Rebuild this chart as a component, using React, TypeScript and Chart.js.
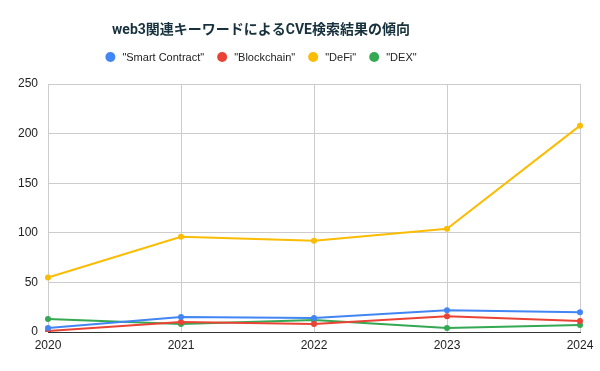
import React, { useEffect, useRef } from "react";
import { Chart, registerables } from "chart.js";

Chart.register(...registerables);

const years = ["2020", "2021", "2022", "2023", "2024"];
const smartContract = [4, 15, 14, 22, 20];
const blockchain = [1, 10, 8, 16, 11];
const defi = [55, 96, 92, 104, 208];
const dex = [13, 8, 12, 4, 7];
const yTicks = [0, 50, 100, 150, 200, 250];

const titleText = "web3関連キーワードによるCVE検索結果の傾向";
const seriesNames = ['"Smart Contract"', '"Blockchain"', '"DeFi"', '"DEX"'];
const seriesColors = ["#4285F4", "#EA4335", "#FBBC04", "#34A853"];

const headerPlugin = {
  id: "header",
  afterDraw(chart: any) {
    const ctx = chart.ctx as CanvasRenderingContext2D;
    const cx = 261;
    ctx.save();
    ctx.fillStyle = "#17323d";
    ctx.font = "bold 14px Roboto, 'Noto Sans CJK JP'";
    ctx.textAlign = "center";
    ctx.textBaseline = "middle";
    ctx.fillText(titleText, cx, 30);

    ctx.font = "11px 'Liberation Sans', Arial";
    const r = 5;
    const gapText = 7;
    const gapItem = 13;
    const widths = seriesNames.map((n) => ctx.measureText(n).width);
    let total = 0;
    widths.forEach((w, i) => {
      total += 2 * r + gapText + w + (i < widths.length - 1 ? gapItem : 0);
    });
    let x = cx - total / 2;
    const y = 57;
    ctx.textAlign = "left";
    seriesNames.forEach((n, i) => {
      ctx.fillStyle = seriesColors[i];
      ctx.beginPath();
      ctx.arc(x + r, y, r, 0, Math.PI * 2);
      ctx.fill();
      ctx.fillStyle = "#222";
      ctx.fillText(n, x + 2 * r + gapText, y + 1);
      x += 2 * r + gapText + widths[i] + gapItem;
    });
    ctx.restore();
  },
};

export default function App() {
  const ref = useRef<HTMLCanvasElement | null>(null);
  useEffect(() => {
    document.body.style.margin = "0";
    const ctx = ref.current!;
    const mk = (i: number, data: number[]) => ({
      label: seriesNames[i],
      data,
      borderColor: seriesColors[i],
      backgroundColor: seriesColors[i],
      borderWidth: 2,
      pointRadius: 2,
      pointHoverRadius: 3,
      tension: 0,
    });
    const chart = new Chart(ctx, {
      type: "line",
      data: {
        labels: years,
        datasets: [mk(0, smartContract), mk(1, blockchain), mk(2, defi), mk(3, dex)],
      },
      plugins: [headerPlugin],
      options: {
        responsive: false,
        animation: false,
        layout: { padding: { left: 0, right: 20, top: 84, bottom: 0 } },
        plugins: {
          title: { display: false },
          legend: { display: false },
          tooltip: { enabled: false },
        },
        scales: {
          x: {
            offset: false,
            grid: { color: "#cccccc", drawTicks: false },
            border: { color: "#333333", width: 1 },
            ticks: {
              color: "#222",
              padding: 6,
              maxRotation: 0,
              font: { family: "'Liberation Sans', Arial", size: 12 },
            },
            afterFit: (s: any) => {
              s.height = 39;
            },
          },
          y: {
            min: 0,
            max: 250,
            afterBuildTicks: (s: any) => {
              s.ticks = yTicks.map((v) => ({ value: v }));
            },
            grid: { color: "#cccccc", drawTicks: false },
            border: { display: false },
            ticks: {
              color: "#222",
              padding: 10,
              font: { family: "'Liberation Sans', Arial", size: 12 },
            },
            afterFit: (s: any) => {
              s.width = 48;
            },
          },
        },
      },
    });
    return () => chart.destroy();
  }, []);
  return <canvas ref={ref} width={600} height={371} style={{ display: "block" }} />;
}
